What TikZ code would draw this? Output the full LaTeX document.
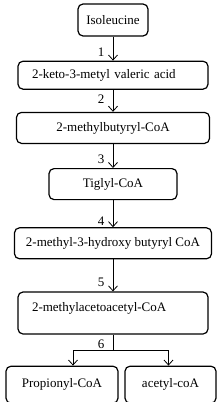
\documentclass[tikz,border=0pt]{standalone}
\usepackage{fontspec}
\setmainfont{Liberation Serif}
\usetikzlibrary{arrows.meta, positioning}
\tikzstyle{stepbox} = [rectangle, rounded corners=5pt, draw=black, line width=1.2pt, text centered, font=\fontsize{13}{15}\selectfont]
\tikzstyle{arrow} = [line width=0.8pt, -{Straight Barb[length=5pt,width=9pt]}]

\begin{document}
\begin{tikzpicture}[x=1pt, y=1pt, every node/.style={font=\fontsize{13}{15}\selectfont}]
    \useasboundingbox (0,0) rectangle (223,-402);
    \node (s1) [stepbox, minimum width=70pt, minimum height=32pt] at (113,-20) {Isoleucine};
    \node (s2) [stepbox, below=24pt of s1, minimum width=190pt, minimum height=28pt, text width=162pt, align=left, inner xsep=14pt] {2-keto-3-metyl valeric acid};
    \node (s3) [stepbox, below=22pt of s2, minimum width=193pt, minimum height=31pt] {2-methylbutyryl-CoA};
    \node (s4) [stepbox, below=24pt of s3, minimum width=128pt, minimum height=31pt] {Tiglyl-CoA};
    \node (s5) [stepbox, below=27pt of s4, minimum width=197pt, minimum height=31pt] {2-methyl-3-hydroxy butyryl CoA};
    \node (s6) [stepbox, below=32pt of s5, minimum width=190pt, minimum height=42pt, text width=162pt, align=left, inner xsep=14pt, text depth=13pt] {2-methylacetoacetyl-CoA};
    \node (s7) [stepbox, below=31pt of s6.south, xshift=-51pt, minimum width=112pt, minimum height=37pt] {Propionyl-CoA};
    \node (s8) [stepbox, below=31pt of s6.south, xshift=57.5pt, minimum width=91pt, minimum height=37pt] {acetyl-coA};

    \foreach \i/\j/\k/\p in {s1/s2/1/0.67, s2/s3/2/0.41, s3/s4/3/0.64, s4/s5/4/0.78, s5/s6/5/0.72} {
        \draw [arrow] (\i.south) -- node[left=5pt, pos=\p]{\k} (\j.north);
    }

    % split into the two products
    \coordinate (fork) at ([yshift=-16pt]s6.south);
    \draw [line width=0.8pt] (s6.south) -- node[left=5pt, pos=0.6]{6} (fork);
    \draw [arrow] (fork) -| ([xshift=11pt]s7.north);
    \draw [arrow] (fork) -| ([xshift=-2pt]s8.north);
\end{tikzpicture}
\end{document}
